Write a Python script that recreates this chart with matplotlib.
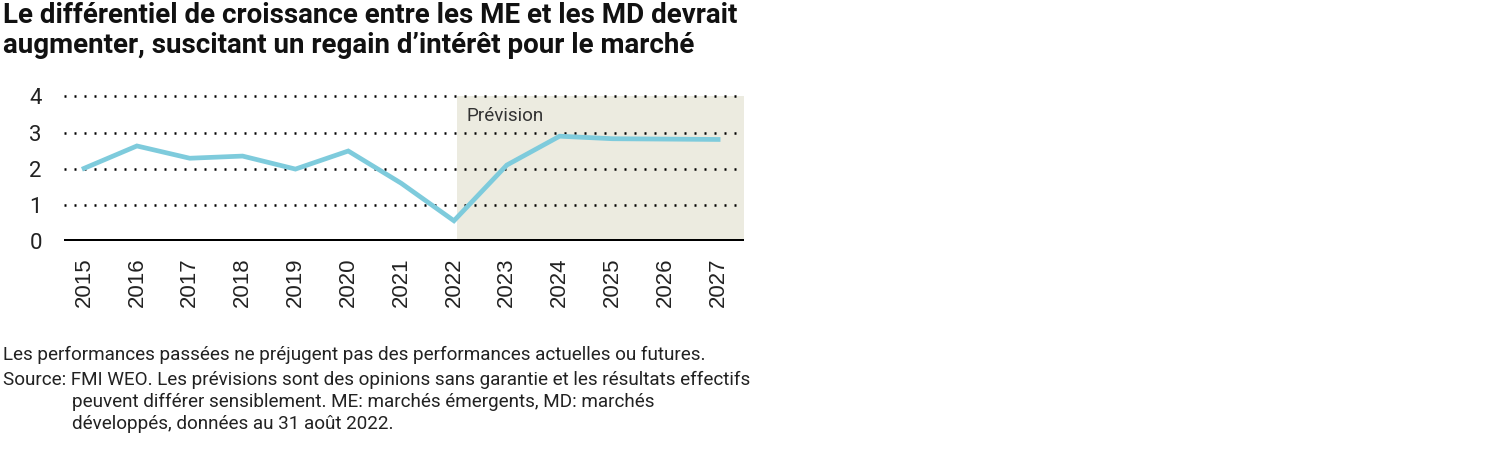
import matplotlib.pyplot as plt

years = [2015, 2016, 2017, 2018, 2019, 2020, 2021, 2022, 2023, 2024, 2025, 2026, 2027]
diff = [2.01, 2.63, 2.29, 2.35, 1.99, 2.49, 1.60, 0.56, 2.10, 2.90, 2.83, 2.82, 2.81]
yticks = [0, 1, 2, 3, 4]
forecast_start = 2022.05

title = "Le différentiel de croissance entre les ME et les MD devrait\naugmenter, suscitant un regain d\u2019intérêt pour le marché"
note = "Les performances passées ne préjugent pas des performances actuelles ou futures."
source_lines = ["Source: FMI WEO. Les prévisions sont des opinions sans garantie et les résultats effectifs",
                "peuvent différer sensiblement. ME: marchés émergents, MD: marchés",
                "développés, données au 31 août 2022."]

plt.rcParams['font.family'] = ['Roboto', 'DejaVu Sans']

fig = plt.figure(figsize=(15, 4.5), dpi=100)
ax = fig.add_axes([64/1500, 1-241/450, 680/1500, 146/450])

# forecast shading
ax.axvspan(forecast_start, years[-1] + 0.49, ymin=0, ymax=4/4.04, color='#ecebe0', zorder=0, lw=0)
ax.text(forecast_start + 0.18, 3.45, "Prévision", fontsize=13.6, color='#333333', va='center')

for y in yticks[1:]:
    ax.axhline(y, color='black', lw=1.8, linestyle=(0, (0.8, 3.2)), zorder=1)
ax.axhline(0, color='black', lw=3.6, zorder=3)

ax.plot(years, diff, color='#7ecbdc', lw=3.4, zorder=2, solid_joinstyle='miter')

ax.set_xlim(years[0] - 0.38, years[-1] + 0.49)
ax.set_ylim(0, 4.04)
ax.set_yticks(yticks)
ax.set_yticklabels([str(t) for t in yticks], fontsize=16, color='#222222')
ax.set_xticks(years)
ax.set_xticklabels([str(y) for y in years], rotation=90, fontsize=16, family='Liberation Sans', color='#222222')
ax.tick_params(axis='both', length=0)
ax.tick_params(axis='y', pad=16)
ax.tick_params(axis='x', pad=12)
for s in ax.spines.values():
    s.set_visible(False)

fig.text(0.002, 0.995, title, fontsize=20, fontweight='bold', va='top', ha='left', linespacing=1.15, color='#111111')
fig.text(0.002, 1-355/450, note, fontsize=13.6, va='center', ha='left', color='#222222')
fig.text(0.002, 1-380/450, source_lines[0], fontsize=13.6, va='center', ha='left', color='#222222')
fig.text(72/1500, 1-402/450, source_lines[1], fontsize=13.6, va='center', ha='left', color='#222222')
fig.text(72/1500, 1-424/450, source_lines[2], fontsize=13.6, va='center', ha='left', color='#222222')

fig.savefig('out.png', dpi=100)
